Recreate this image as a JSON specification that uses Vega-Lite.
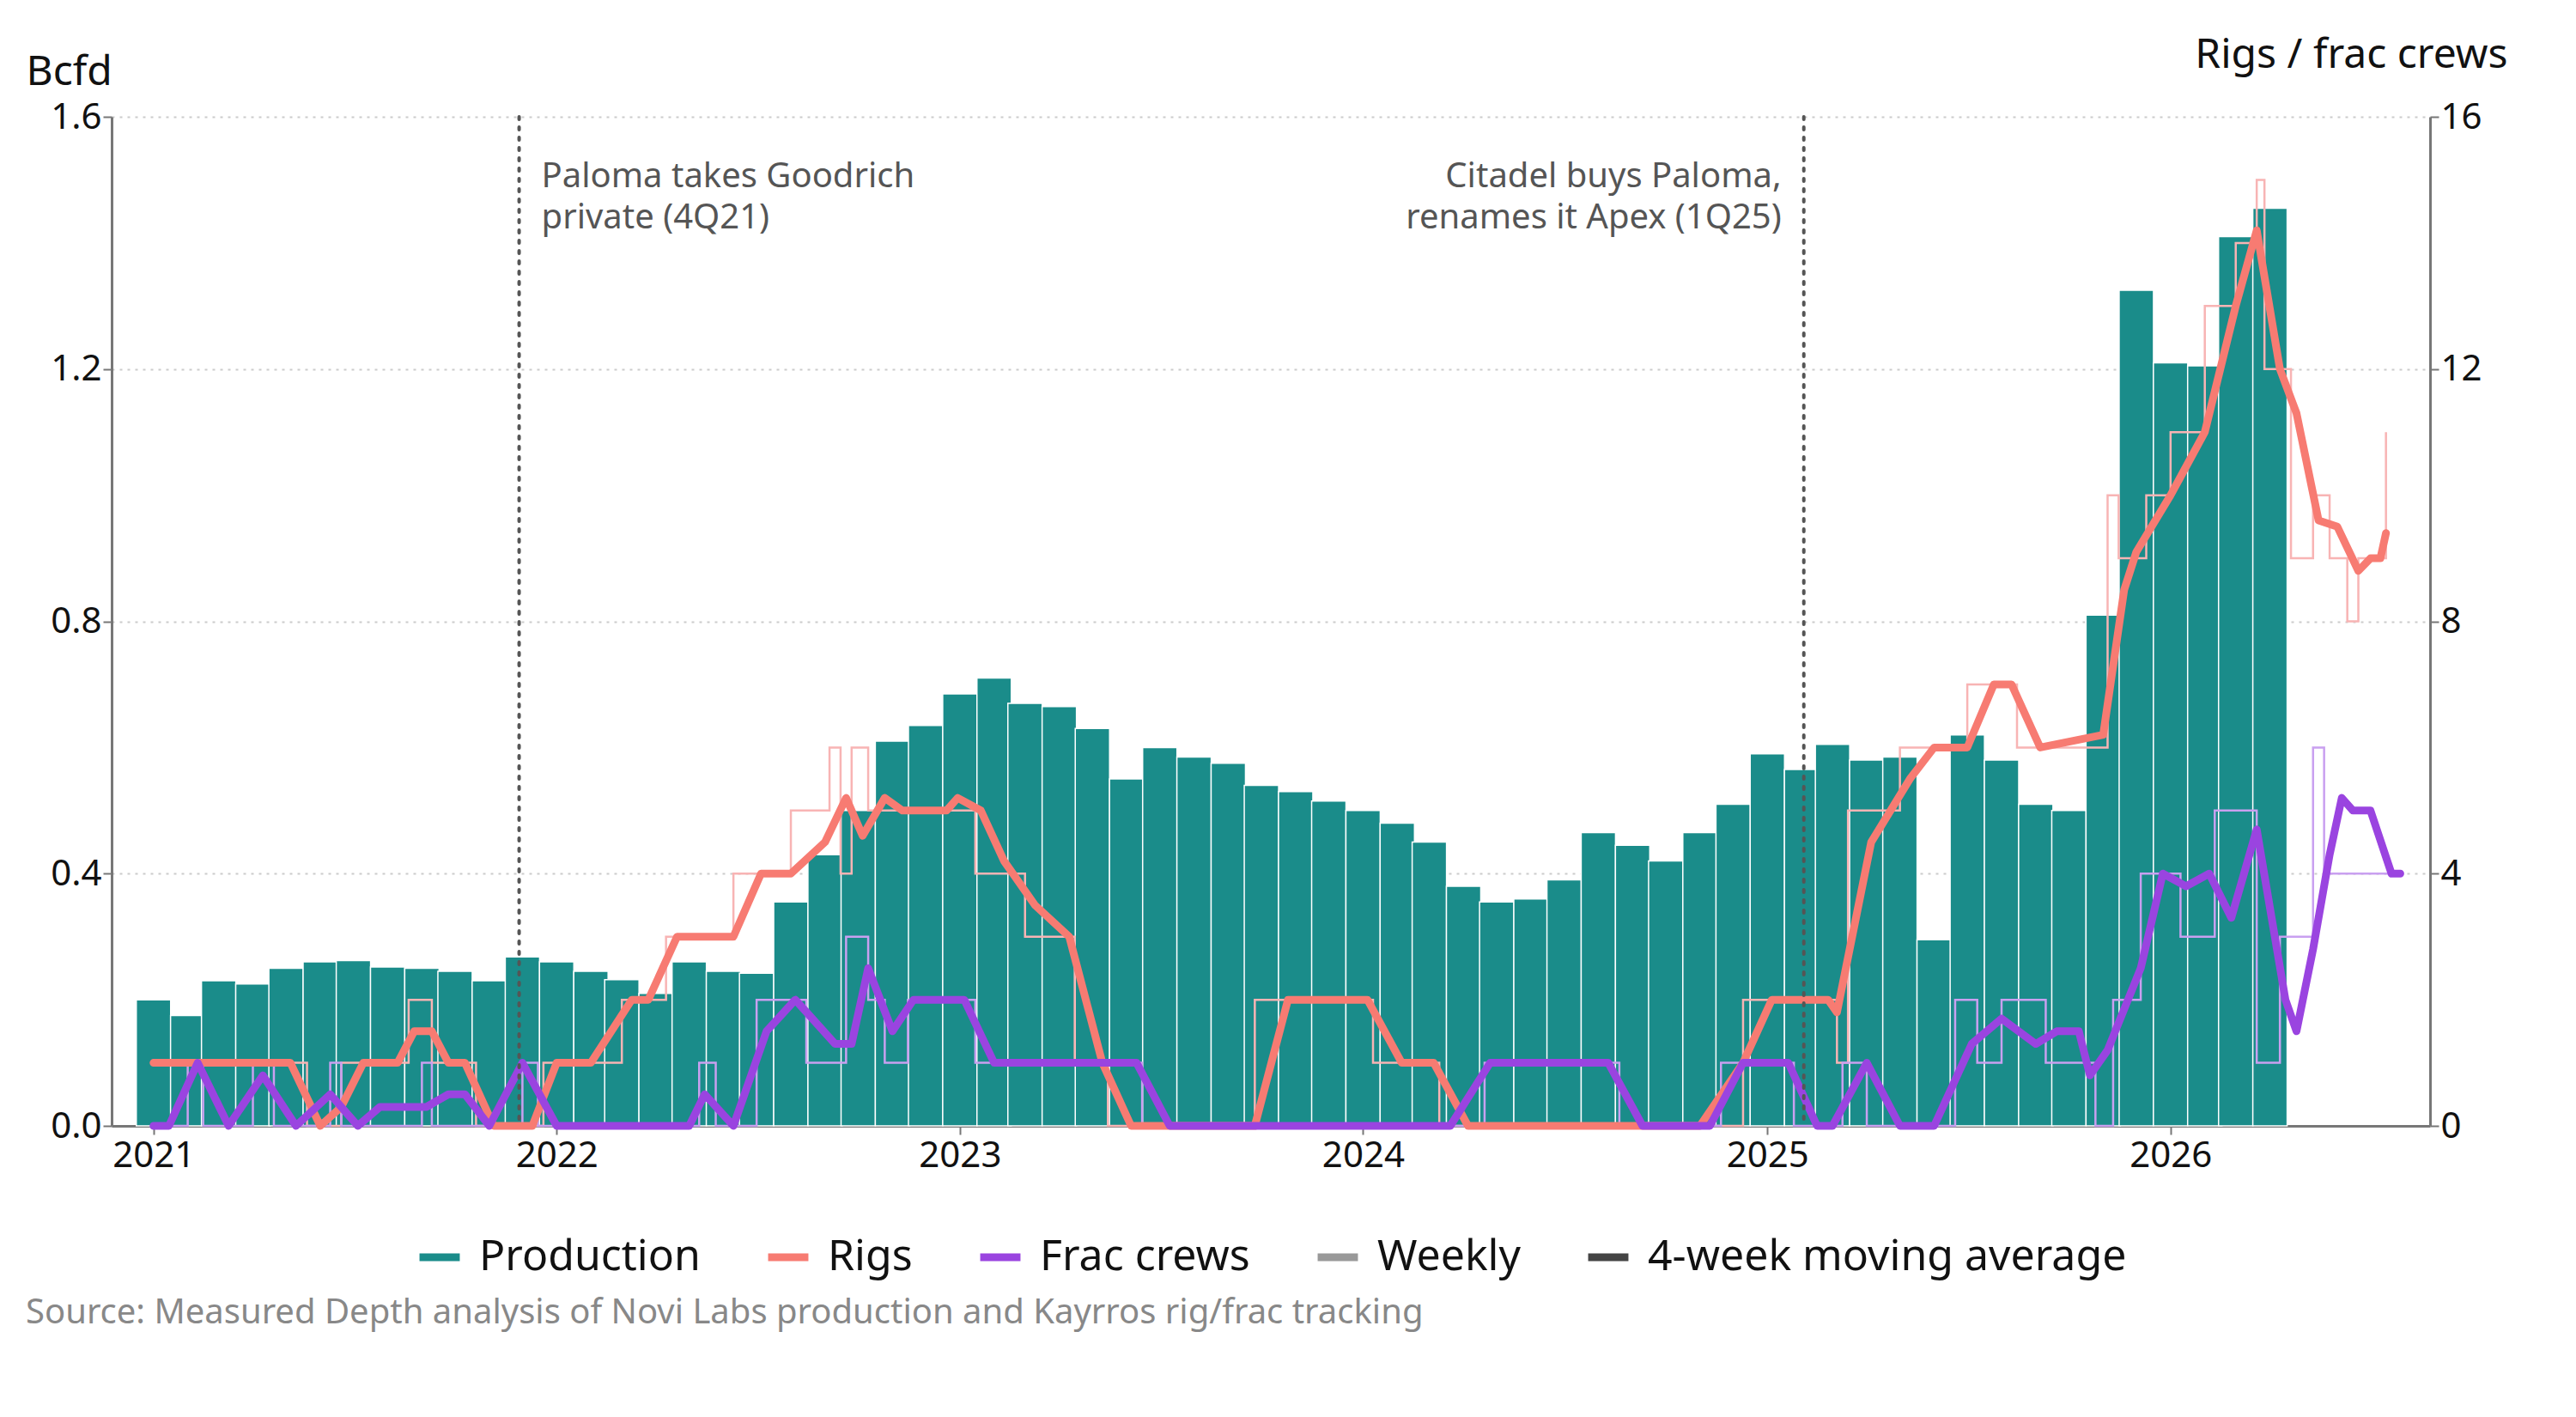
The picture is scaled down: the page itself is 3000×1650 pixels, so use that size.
{
  "$schema": "https://vega.github.io/schema/vega-lite/v6.json",
  "width": 2700,
  "height": 1175,
  "padding": {"left": 30, "right": 30, "top": 40, "bottom": 10},
  "background": "white",
  "config": {
    "font": "Noto Sans",
    "view": {"stroke": null},
    "legend": {"layout": {"bottom": {"anchor": "middle"}}},
    "axis": {"labelFontSize": 42, "labelColor": "#111", "titleFontSize": 48, "titleFontWeight": "normal", "titleColor": "#111", "domainColor": "#777", "domainWidth": 3, "tickColor": "#777", "tickWidth": 2, "tickSize": 10}
  },
  "title": {"text": "Source: Measured Depth analysis of Novi Labs production and Kayrros rig/frac tracking", "orient": "bottom", "anchor": "start", "fontSize": 40, "fontWeight": "normal", "color": "#888", "offset": 20, "frame": "group", "dx": -100},
  "datasets": {
    "prod": [
      {"date": "2021-01-01", "v": 0.20}, {"date": "2021-02-01", "v": 0.175}, {"date": "2021-03-01", "v": 0.23}, {"date": "2021-04-01", "v": 0.225},
      {"date": "2021-05-01", "v": 0.25}, {"date": "2021-06-01", "v": 0.26}, {"date": "2021-07-01", "v": 0.262}, {"date": "2021-08-01", "v": 0.252},
      {"date": "2021-09-01", "v": 0.25}, {"date": "2021-10-01", "v": 0.245}, {"date": "2021-11-01", "v": 0.23}, {"date": "2021-12-01", "v": 0.268},
      {"date": "2022-01-01", "v": 0.26}, {"date": "2022-02-01", "v": 0.245}, {"date": "2022-03-01", "v": 0.232}, {"date": "2022-04-01", "v": 0.21},
      {"date": "2022-05-01", "v": 0.26}, {"date": "2022-06-01", "v": 0.245}, {"date": "2022-07-01", "v": 0.242}, {"date": "2022-08-01", "v": 0.355},
      {"date": "2022-09-01", "v": 0.43}, {"date": "2022-10-01", "v": 0.50}, {"date": "2022-11-01", "v": 0.61}, {"date": "2022-12-01", "v": 0.635},
      {"date": "2023-01-01", "v": 0.685}, {"date": "2023-02-01", "v": 0.71}, {"date": "2023-03-01", "v": 0.67}, {"date": "2023-04-01", "v": 0.665},
      {"date": "2023-05-01", "v": 0.63}, {"date": "2023-06-01", "v": 0.55}, {"date": "2023-07-01", "v": 0.60}, {"date": "2023-08-01", "v": 0.585},
      {"date": "2023-09-01", "v": 0.575}, {"date": "2023-10-01", "v": 0.54}, {"date": "2023-11-01", "v": 0.53}, {"date": "2023-12-01", "v": 0.515},
      {"date": "2024-01-01", "v": 0.50}, {"date": "2024-02-01", "v": 0.48}, {"date": "2024-03-01", "v": 0.45}, {"date": "2024-04-01", "v": 0.38},
      {"date": "2024-05-01", "v": 0.355}, {"date": "2024-06-01", "v": 0.36}, {"date": "2024-07-01", "v": 0.39}, {"date": "2024-08-01", "v": 0.465},
      {"date": "2024-09-01", "v": 0.445}, {"date": "2024-10-01", "v": 0.42}, {"date": "2024-11-01", "v": 0.465}, {"date": "2024-12-01", "v": 0.51},
      {"date": "2025-01-01", "v": 0.59}, {"date": "2025-02-01", "v": 0.565}, {"date": "2025-03-01", "v": 0.605}, {"date": "2025-04-01", "v": 0.58},
      {"date": "2025-05-01", "v": 0.585}, {"date": "2025-06-01", "v": 0.295}, {"date": "2025-07-01", "v": 0.62}, {"date": "2025-08-01", "v": 0.58},
      {"date": "2025-09-01", "v": 0.51}, {"date": "2025-10-01", "v": 0.50}, {"date": "2025-11-01", "v": 0.81}, {"date": "2025-12-01", "v": 1.325},
      {"date": "2026-01-01", "v": 1.21}, {"date": "2026-02-01", "v": 1.205}, {"date": "2026-03-01", "v": 1.41}, {"date": "2026-04-01", "v": 1.455}
    ],
    "rigsMA": [
      {"date": "2021-01-01", "v": 1}, {"date": "2021-05-05", "v": 1}, {"date": "2021-06-01", "v": 0}, {"date": "2021-06-20", "v": 0.3},
      {"date": "2021-07-10", "v": 1}, {"date": "2021-08-10", "v": 1}, {"date": "2021-08-25", "v": 1.5}, {"date": "2021-09-10", "v": 1.5},
      {"date": "2021-09-25", "v": 1}, {"date": "2021-10-10", "v": 1}, {"date": "2021-11-05", "v": 0}, {"date": "2021-12-10", "v": 0},
      {"date": "2022-01-01", "v": 1}, {"date": "2022-02-01", "v": 1}, {"date": "2022-03-10", "v": 2}, {"date": "2022-03-25", "v": 2},
      {"date": "2022-04-20", "v": 3}, {"date": "2022-06-10", "v": 3}, {"date": "2022-07-05", "v": 4}, {"date": "2022-08-01", "v": 4},
      {"date": "2022-09-01", "v": 4.5}, {"date": "2022-09-20", "v": 5.2}, {"date": "2022-10-05", "v": 4.6}, {"date": "2022-10-25", "v": 5.2},
      {"date": "2022-11-10", "v": 5}, {"date": "2022-12-20", "v": 5}, {"date": "2022-12-30", "v": 5.2}, {"date": "2023-01-20", "v": 5},
      {"date": "2023-02-10", "v": 4.2}, {"date": "2023-03-10", "v": 3.5}, {"date": "2023-04-10", "v": 3}, {"date": "2023-05-10", "v": 1},
      {"date": "2023-06-05", "v": 0}, {"date": "2023-09-25", "v": 0}, {"date": "2023-10-25", "v": 2}, {"date": "2024-01-05", "v": 2},
      {"date": "2024-02-05", "v": 1}, {"date": "2024-03-05", "v": 1}, {"date": "2024-04-05", "v": 0}, {"date": "2024-11-01", "v": 0},
      {"date": "2024-12-10", "v": 1}, {"date": "2025-01-05", "v": 2}, {"date": "2025-02-25", "v": 2}, {"date": "2025-03-05", "v": 1.8},
      {"date": "2025-04-05", "v": 4.5}, {"date": "2025-05-10", "v": 5.5}, {"date": "2025-06-01", "v": 6}, {"date": "2025-07-01", "v": 6},
      {"date": "2025-07-25", "v": 7}, {"date": "2025-08-10", "v": 7}, {"date": "2025-09-05", "v": 6}, {"date": "2025-11-01", "v": 6.2},
      {"date": "2025-11-20", "v": 8.5}, {"date": "2025-12-01", "v": 9.1}, {"date": "2026-01-01", "v": 10}, {"date": "2026-02-01", "v": 11},
      {"date": "2026-03-01", "v": 13}, {"date": "2026-03-20", "v": 14.2}, {"date": "2026-04-10", "v": 12}, {"date": "2026-04-25", "v": 11.3},
      {"date": "2026-05-15", "v": 9.6}, {"date": "2026-06-01", "v": 9.5}, {"date": "2026-06-20", "v": 8.8}, {"date": "2026-07-01", "v": 9.0},
      {"date": "2026-07-10", "v": 9.0}, {"date": "2026-07-15", "v": 9.4}
    ],
    "fracMA": [
      {"date": "2021-01-01", "v": 0}, {"date": "2021-01-15", "v": 0}, {"date": "2021-02-10", "v": 1}, {"date": "2021-03-10", "v": 0},
      {"date": "2021-04-10", "v": 0.8}, {"date": "2021-05-10", "v": 0}, {"date": "2021-06-10", "v": 0.5}, {"date": "2021-07-05", "v": 0},
      {"date": "2021-07-25", "v": 0.3}, {"date": "2021-09-05", "v": 0.3}, {"date": "2021-09-25", "v": 0.5}, {"date": "2021-10-10", "v": 0.5},
      {"date": "2021-11-01", "v": 0}, {"date": "2021-12-01", "v": 1}, {"date": "2022-01-01", "v": 0}, {"date": "2022-05-01", "v": 0},
      {"date": "2022-05-15", "v": 0.5}, {"date": "2022-06-10", "v": 0}, {"date": "2022-07-10", "v": 1.5}, {"date": "2022-08-05", "v": 2},
      {"date": "2022-09-10", "v": 1.3}, {"date": "2022-09-25", "v": 1.3}, {"date": "2022-10-10", "v": 2.5}, {"date": "2022-11-01", "v": 1.5},
      {"date": "2022-11-20", "v": 2}, {"date": "2023-01-05", "v": 2}, {"date": "2023-02-01", "v": 1}, {"date": "2023-06-10", "v": 1},
      {"date": "2023-07-10", "v": 0}, {"date": "2024-03-20", "v": 0}, {"date": "2024-04-25", "v": 1}, {"date": "2024-08-10", "v": 1},
      {"date": "2024-09-10", "v": 0}, {"date": "2024-11-10", "v": 0}, {"date": "2024-12-10", "v": 1}, {"date": "2025-01-20", "v": 1},
      {"date": "2025-02-15", "v": 0}, {"date": "2025-03-01", "v": 0}, {"date": "2025-04-01", "v": 1}, {"date": "2025-05-01", "v": 0},
      {"date": "2025-06-01", "v": 0}, {"date": "2025-07-05", "v": 1.3}, {"date": "2025-08-01", "v": 1.7}, {"date": "2025-09-01", "v": 1.3},
      {"date": "2025-09-20", "v": 1.5}, {"date": "2025-10-10", "v": 1.5}, {"date": "2025-10-20", "v": 0.8}, {"date": "2025-11-05", "v": 1.2},
      {"date": "2025-12-05", "v": 2.5}, {"date": "2025-12-25", "v": 4}, {"date": "2026-01-15", "v": 3.8}, {"date": "2026-02-05", "v": 4},
      {"date": "2026-02-25", "v": 3.3}, {"date": "2026-03-20", "v": 4.7}, {"date": "2026-04-15", "v": 2}, {"date": "2026-04-25", "v": 1.5},
      {"date": "2026-05-10", "v": 2.8}, {"date": "2026-05-25", "v": 4.3}, {"date": "2026-06-05", "v": 5.2}, {"date": "2026-06-15", "v": 5},
      {"date": "2026-07-01", "v": 5}, {"date": "2026-07-20", "v": 4}, {"date": "2026-07-28", "v": 4}
    ],
    "rigsW": [
      {"date": "2021-01-01", "v": 1}, {"date": "2021-05-20", "v": 0}, {"date": "2021-06-20", "v": 1}, {"date": "2021-08-20", "v": 2},
      {"date": "2021-09-10", "v": 1}, {"date": "2021-10-20", "v": 0}, {"date": "2021-12-20", "v": 1}, {"date": "2022-03-01", "v": 2},
      {"date": "2022-04-10", "v": 3}, {"date": "2022-06-10", "v": 4}, {"date": "2022-08-01", "v": 5}, {"date": "2022-09-05", "v": 6},
      {"date": "2022-09-15", "v": 4}, {"date": "2022-09-25", "v": 6}, {"date": "2022-10-10", "v": 5}, {"date": "2023-01-15", "v": 4},
      {"date": "2023-03-01", "v": 3}, {"date": "2023-04-15", "v": 1}, {"date": "2023-05-15", "v": 0}, {"date": "2023-09-25", "v": 2},
      {"date": "2024-01-10", "v": 1}, {"date": "2024-03-10", "v": 0}, {"date": "2024-12-10", "v": 2}, {"date": "2025-03-05", "v": 1},
      {"date": "2025-03-15", "v": 5}, {"date": "2025-05-01", "v": 6}, {"date": "2025-07-01", "v": 7}, {"date": "2025-08-15", "v": 6},
      {"date": "2025-11-05", "v": 10}, {"date": "2025-11-15", "v": 9}, {"date": "2025-12-10", "v": 10}, {"date": "2026-01-01", "v": 11},
      {"date": "2026-02-01", "v": 13}, {"date": "2026-03-01", "v": 14}, {"date": "2026-03-20", "v": 15}, {"date": "2026-03-27", "v": 12},
      {"date": "2026-04-20", "v": 9}, {"date": "2026-05-10", "v": 10}, {"date": "2026-05-25", "v": 9}, {"date": "2026-06-10", "v": 8},
      {"date": "2026-06-20", "v": 9}, {"date": "2026-07-05", "v": 9}, {"date": "2026-07-15", "v": 11}
    ],
    "fracW": [
      {"date": "2021-01-01", "v": 0}, {"date": "2021-02-01", "v": 1}, {"date": "2021-02-15", "v": 0}, {"date": "2021-04-01", "v": 1},
      {"date": "2021-04-20", "v": 0}, {"date": "2021-06-10", "v": 1}, {"date": "2021-06-20", "v": 0}, {"date": "2021-09-01", "v": 1},
      {"date": "2021-09-10", "v": 0}, {"date": "2021-12-01", "v": 1}, {"date": "2021-12-15", "v": 0}, {"date": "2022-05-10", "v": 1},
      {"date": "2022-05-25", "v": 0}, {"date": "2022-07-01", "v": 2}, {"date": "2022-08-15", "v": 1}, {"date": "2022-09-20", "v": 3},
      {"date": "2022-10-10", "v": 2}, {"date": "2022-10-25", "v": 1}, {"date": "2022-11-15", "v": 2}, {"date": "2023-01-15", "v": 1},
      {"date": "2023-06-15", "v": 0}, {"date": "2024-04-20", "v": 1}, {"date": "2024-08-20", "v": 0}, {"date": "2024-11-20", "v": 1},
      {"date": "2025-01-25", "v": 0}, {"date": "2025-03-10", "v": 1}, {"date": "2025-04-01", "v": 0}, {"date": "2025-06-20", "v": 2},
      {"date": "2025-07-10", "v": 1}, {"date": "2025-08-01", "v": 2}, {"date": "2025-09-10", "v": 1}, {"date": "2025-10-25", "v": 0},
      {"date": "2025-11-10", "v": 2}, {"date": "2025-12-05", "v": 4}, {"date": "2026-01-10", "v": 3}, {"date": "2026-02-10", "v": 5},
      {"date": "2026-03-20", "v": 1}, {"date": "2026-04-10", "v": 3}, {"date": "2026-05-10", "v": 6}, {"date": "2026-05-20", "v": 4},
      {"date": "2026-07-25", "v": 4}
    ],
    "events": [
      {"date": "2021-11-28", "label": ["Paloma takes Goodrich", "private (4Q21)"], "side": "left"},
      {"date": "2025-02-03", "label": ["Citadel buys Paloma,", "renames it Apex (1Q25)"], "side": "right"}
    ]
  },
  "encoding": {
    "x": {"field": "date", "type": "temporal",
      "scale": {"domain": ["2020-11-28", "2026-08-20"]},
      "axis": {"format": "%Y", "tickCount": {"interval": "year", "step": 1}, "title": null, "grid": false, "labelPadding": 4}}
  },
  "layer": [
    {
      "data": {"name": "prod"},
      "mark": {"type": "bar", "width": 40, "fill": "#1a8c8a", "stroke": "white", "strokeWidth": 1.5},
      "encoding": {
        "y": {"field": "v", "type": "quantitative", "scale": {"domain": [0, 1.6]},
          "axis": {"title": "Bcfd", "titleAngle": 0, "titleAlign": "left", "titleBaseline": "bottom", "titleX": -100, "titleY": -28, "values": [0, 0.4, 0.8, 1.2, 1.6], "format": ".1f", "grid": true, "gridDash": [3, 6], "gridColor": "#ccc", "gridWidth": 2}},
        "color": {"datum": "Production", "type": "nominal",
          "scale": {"domain": ["Production", "Rigs", "Frac crews", "Weekly", "4-week moving average"], "range": ["#1a8c8a", "#f77b72", "#9a44e0", "#999999", "#444444"]},
          "legend": {"orient": "bottom", "direction": "horizontal", "title": null, "labelFontSize": 50, "labelLimit": 0, "labelColor": "#111", "symbolSize": 2200, "columnPadding": 60, "offset": 70, "labelOffset": 18,
            "symbolType": "stroke", "symbolStrokeWidth": 9,
            "encode": {"symbols": {
              "enter": {
                "shape": {"signal": "datum.label === 'Production' ? 'square' : 'stroke'"}
              },
              "update": {
                "shape": {"signal": "datum.label === 'Production' ? 'square' : 'stroke'"},
                "fill": {"signal": "datum.label === 'Production' ? scale('color', datum.value) : 'transparent'"},
                "stroke": {"signal": "scale('color', datum.value)"},
                "strokeWidth": {"signal": "datum.label === 'Production' ? 0 : (datum.label === 'Weekly' ? 2 : 9)"},
                "opacity": {"value": 1}
              }}}}
        }
      }
    },
    {
      "encoding": {
        "y": {"field": "v", "type": "quantitative", "scale": {"domain": [0, 16]},
          "axis": {"orient": "right", "title": "Rigs / frac crews", "titleAngle": 0, "titleAlign": "right", "titleBaseline": "bottom", "titleX": 90, "titleY": -48, "values": [0, 4, 8, 12, 16], "grid": false}}
      },
      "layer": [
        {"data": {"name": "rigsW"}, "mark": {"type": "line", "interpolate": "step-after", "stroke": "#f8b4b4", "strokeWidth": 2.5}},
        {"data": {"name": "fracW"}, "mark": {"type": "line", "interpolate": "step-after", "stroke": "#c9a0f0", "strokeWidth": 2.5}},
        {"data": {"name": "rigsMA"}, "mark": {"type": "line", "strokeWidth": 9, "strokeCap": "round", "strokeJoin": "round"},
          "encoding": {"color": {"datum": "Rigs", "type": "nominal"}}},
        {"data": {"name": "fracMA"}, "mark": {"type": "line", "strokeWidth": 9, "strokeCap": "round", "strokeJoin": "round"},
          "encoding": {"color": {"datum": "Frac crews", "type": "nominal"}}}
      ]
    },
    {
      "data": {"name": "events"},
      "mark": {"type": "rule", "strokeDash": [3, 9], "strokeWidth": 4, "color": "#555", "strokeCap": "round"},
      "encoding": {}
    },
    {
      "data": {"name": "events"},
      "transform": [{"filter": "datum.side === 'left'"}],
      "mark": {"type": "text", "align": "left", "baseline": "top", "dx": 26, "y": 50, "fontSize": 40, "color": "#555", "lineHeight": 48},
      "encoding": {"text": {"field": "label"}}
    },
    {
      "data": {"name": "events"},
      "transform": [{"filter": "datum.side === 'right'"}],
      "mark": {"type": "text", "align": "right", "baseline": "top", "dx": -26, "y": 50, "fontSize": 40, "color": "#555", "lineHeight": 48},
      "encoding": {"text": {"field": "label"}}
    }
  ],
  "resolve": {"scale": {"y": "independent", "color": "shared"}}
}
